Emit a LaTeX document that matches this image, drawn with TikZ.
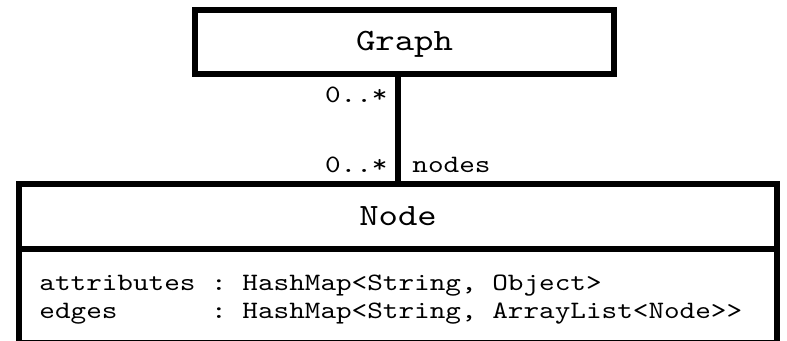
\documentclass[tikz,border=0pt]{standalone}
\usepackage{fontspec}
\usepackage{tikz}
\usetikzlibrary{positioning,calc}

\newfontfamily\umlmono{lmmono10-regular.otf}[FakeStretch=1.19]

\tikzset{
  umlbox/.style={draw, line width=3pt, fill=white, inner sep=0pt, outer sep=0pt},
  classname/.style={umlbox, font=\umlmono\fontsize{15.5}{17}\selectfont, text height=10pt, text depth=1.2pt},
  attrtext/.style={inner sep=0pt, font=\umlmono\frenchspacing\fontsize{12.5}{14}\selectfont},
  assoc/.style={line width=2.75pt},
  multlabel/.style={inner sep=0pt, font=\umlmono\fontsize{12.5}{14}\selectfont}
}

\begin{document}
\begin{tikzpicture}
  \useasboundingbox (0,0) rectangle (393.5pt,-170.5pt);

  % classes
  \node[classname, minimum width=209.5pt, minimum height=32pt] (graph) at (202.25pt,-21pt) {Graph};
  \node[classname, minimum width=379pt, minimum height=32.5pt] (nodehead) at (199pt,-108.25pt) {Node};
  \node[umlbox, minimum width=379pt, minimum height=47pt, below=0pt of nodehead] (nodebody) {};

  % attributes
  \node[attrtext, below right=21pt and 10pt of nodebody.north west, anchor=base west] (attrs)
    {attributes : HashMap<String, Object>};
  \node[attrtext, below=14pt of attrs.base west, anchor=base west] (edges)
    {edges\hphantom{xxxxx} : HashMap<String, ArrayList<Node>>};

  % association
  \coordinate (gtop) at (graph.south -| nodehead.north);
  \draw[assoc] (gtop) -- (nodehead.north);
  \node[multlabel, below left=14.5pt and 5pt of gtop, anchor=base east] (gmult) {0..*};
  \node[multlabel, above left=5.5pt and 5pt of nodehead.north, anchor=base east] (nmult) {0..*};
  \node[multlabel, above right=5.5pt and 7pt of nodehead.north, anchor=base west] (nrole) {nodes};
\end{tikzpicture}
\end{document}
